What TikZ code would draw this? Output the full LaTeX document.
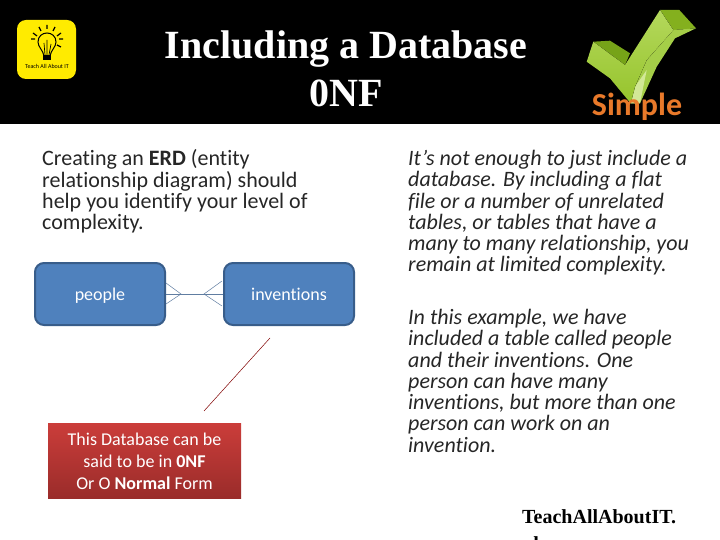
\documentclass[tikz,border=0pt]{standalone}
\usepackage{fontspec}
\setmainfont[Ligatures=NoCommon]{Carlito}
\newfontfamily\titlefont{Liberation Serif}
\usepackage{xcolor}
\usepackage{tikz}
\usetikzlibrary{shapes.geometric}
\definecolor{boxblue}{HTML}{4F81BD}
\definecolor{boxedge}{HTML}{385D8A}
\definecolor{logoyellow}{HTML}{FFEB00}
\definecolor{notetop}{HTML}{CB3D3A}
\definecolor{notebottom}{HTML}{9A2C2A}
\definecolor{tickfront}{HTML}{96C42C}
\definecolor{tickpale}{HTML}{B4D85C}
\definecolor{tickdark}{HTML}{76A318}
\definecolor{tickcap}{HTML}{84B01E}
\definecolor{tickside}{HTML}{A5CE48}
\definecolor{tickfoot}{HTML}{D2E896}
\definecolor{simpleorange}{HTML}{E8792A}
\tikzset{
  entity/.style={fill=boxblue, draw=boxedge, line width=2pt, rectangle, rounded corners=9pt,
    minimum width=130pt, minimum height=62pt, text=white},
  entitytext/.style={text=white, anchor=base, inner sep=0pt, font=\fontsize{18}{20}\selectfont},
  para/.style={anchor=north west, align=left, inner sep=0pt, text=black!85},
  crow/.style={draw=boxedge!80, line width=0.5pt},
  logotext/.style={font=\fontsize{6}{7}\selectfont, inner sep=0pt},
}
\begin{document}
\begin{tikzpicture}[x=1pt,y=-1pt]
\useasboundingbox (0,0) rectangle (720,540);
\clip (0,0) rectangle (720,540);

\fill[black] (0,0) rectangle (720,124);
\node[text=white, align=center, font=\titlefont\bfseries\fontsize{40}{48}\selectfont] (title) at (346,69) {Including a Database\\0NF};

% logo
\node[fill=logoyellow, rectangle, rounded corners=9pt, minimum width=59pt, minimum height=59pt, inner sep=0pt] (logo) at (46.5,49.5) {};
\draw[black, line width=1pt, fill=logoyellow] (44,56) .. controls (43,50) and (38,47) .. (38,42) .. controls (38,30) and (56,30) .. (56,42) .. controls (56,47) and (51,50) .. (50,56) -- cycle;
\fill[black] (43,55) rectangle (51,60);
\draw[black, line width=0.7pt] (45,55) -- (44,43) (47,55) -- (47,40) (49,55) -- (51,44);
\draw[black, line width=1.2pt] (33,33) -- (37,36) (39,27) -- (41,31) (47,25) -- (47,29) (55,27) -- (53,31) (61,33) -- (57,36) (31,39) -- (35,39) (63,39) -- (59,39) (61,47) -- (57,45);
\node[logotext] (logolabel) at (47,66) {Teach All About IT};

% tick
\fill[tickdark] (593.3,41.7) -- (610,40.7) -- (630,53.3) -- (625,65) -- cycle;
\fill[tickcap] (660,10) -- (679.3,10) -- (696,28.3) -- (673.3,30) -- cycle;
\fill[tickside] (673.3,30) -- (696,28.3) -- (675,38.3) -- (656.7,66.7) -- (640,103.3) -- (630.7,103.3) -- (635,86.7) -- (646.7,60) -- cycle;
\fill[tickfoot] (635,86.7) -- (646.7,70) -- (640,103.3) -- (630.7,103.3) -- cycle;
\fill[top color=tickpale, bottom color=tickfront] (586.7,61.7) -- (593.3,41.7) -- (625,65) -- (660,10) -- (673.3,30) -- (646.7,60) -- (635,86.7) -- (630.7,103.3) -- (610,78.3) -- cycle;
\node[text=simpleorange, font=\bfseries\fontsize{32}{34}\selectfont, inner sep=0pt] (simple) at (637,107) {Simple};

% left column
\node[para, font=\fontsize{22}{21.3}\selectfont] (intro) at (42,149.5) {Creating an \textbf{ERD} (entity\\relationship diagram) should\\help you identify your level of\\complexity.};

% entities
\node[entity] (people) at (100,294) {};
\node[entity] (inventions) at (289,294) {};
\node[entitytext] (peoplelabel) at (100,300) {people};
\node[entitytext] (inventionslabel) at (289,300) {inventions};

\coordinate (pa) at (181,294);
\coordinate (ia) at (204,294);
\coordinate (pt) at (166,283);
\coordinate (pb) at (166,304);
\coordinate (it) at (222,281);
\coordinate (ib) at (222,306);
\draw[crow] (people.east) -- (inventions.west);
\draw[crow] (pt) -- (pa) -- (pb);
\draw[crow] (it) -- (ia) -- (ib);

% note
\coordinate (na) at (270,338);
\coordinate (nb) at (204,411);
\draw[draw=red!50!black, line width=0.5pt] (na) -- (nb);
\node[rectangle, top color=notetop, bottom color=notebottom, minimum width=193pt, minimum height=75pt, inner sep=0pt] (note) at (144.5,460.5) {};
\node[text=white, align=center, inner sep=0pt, font=\fontsize{18}{22}\selectfont] (notelabel) at (144.5,461.5) {This Database can be\\said to be in \textbf{0NF}\\Or O \textbf{Normal} Form};

% right column
\node[para, font=\itshape\fontsize{22}{21.3}\selectfont] (reason) at (408,150) {It’s not enough to just include a\\database. By including a flat\\file or a number of unrelated\\tables, or tables that have a\\many to many relationship, you\\remain at limited complexity.};
\node[para, font=\itshape\fontsize{22}{21.3}\selectfont] (example) at (408,309) {In this example, we have\\included a table called people\\and their inventions.  One\\person can have many\\inventions, but more than one\\person can work on an\\invention.};

\node[para, text=black, font=\titlefont\bfseries\fontsize{20}{27}\selectfont] (site) at (522,509) {TeachAllAboutIT.\\uk};
\end{tikzpicture}
\end{document}
